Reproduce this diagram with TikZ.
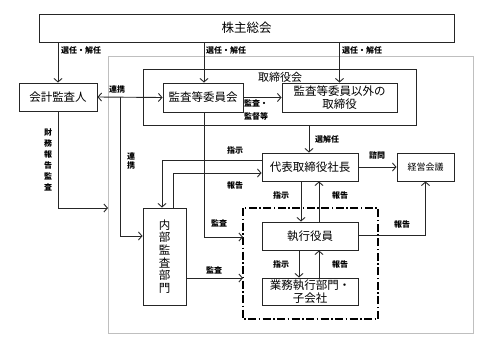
\documentclass[tikz,border=0pt]{standalone}
\usepackage{fontspec}
\setmainfont{Noto Sans CJK JP}
\usetikzlibrary{arrows.meta}
\begin{document}
\begin{tikzpicture}[x=1pt,y=-1pt,
  box/.style={draw=black!85, line width=0.9pt, inner sep=0pt, align=center,
    font=\fontsize{11.5}{13}\selectfont},
  lbl/.style={inner sep=0pt, font=\fontsize{8}{9.5}\selectfont\bfseries, align=center},
  arr/.style={line width=0.9pt, draw=black!85, -{Straight Barb[length=3.5pt,width=8pt]}},
  dbl/.style={line width=0.9pt, draw=black!85, {Straight Barb[length=3.5pt,width=8pt]}-{Straight Barb[length=3.5pt,width=8pt]}},
  ln/.style={line width=0.9pt, draw=black!85}]
\useasboundingbox (0,0) rectangle (493,348);
% outer gray frame
\draw[black!25, line width=0.9pt] (108,56) rectangle (473,333);
% board frame
\draw[ln] (143,69) rectangle (416,125);
\node[inner sep=0pt, font=\fontsize{11}{12}\selectfont] (torilbl) at (280,77) {取締役会};
\coordinate (tbot) at (309,125);
% dash-dot frame
\draw[line width=1.3pt, dash pattern=on 8pt off 2.5pt on 1.5pt off 2.5pt] (243,208) rectangle (378,319);

\node[box, minimum width=415pt, minimum height=28pt, font=\fontsize{12.5}{14}\selectfont] (kabu) at (246.5,28) {株主総会};
\node[box, minimum width=78pt, minimum height=28pt] (kaikei) at (58,97) {会計監査人};
\node[box, minimum width=80pt, minimum height=29pt] (kansa) at (203,97.5) {監査等委員会};
\node[box, minimum width=115pt, minimum height=29pt, font=\fontsize{11.5}{12.5}\selectfont] (igai) at (339.5,97.5) {監査等委員以外の\\取締役};
\node[box, minimum width=96pt, minimum height=28pt] (daihyo) at (310,167) {代表取締役社長};
\node[box, minimum width=57pt, minimum height=28pt, font=\fontsize{9}{10}\selectfont] (keiei) at (425.5,167) {経営会議};
\node[box, minimum width=43pt, minimum height=97pt, font=\fontsize{11.5}{12.6}\selectfont] (naibu) at (164.5,256.5) {内\\部\\監\\査\\部\\門};
\node[box, minimum width=96pt, minimum height=28pt] (shikko) at (310,236) {執行役員};
\node[box, minimum width=96pt, minimum height=27pt, font=\fontsize{11.5}{12.5}\selectfont] (gyomu) at (310,291.5) {業務執行部門・\\子会社};

% shareholders -> appointments
\draw[arr] (kabu.south -| kaikei) -- (kaikei.north);
\node[lbl, anchor=west] at (61,50) {選任・解任};
\draw[arr] (kabu.south -| 204,0) -- (kansa.north -| 204,0);
\node[lbl, anchor=west] at (206,50) {選任・解任};
\draw[arr] (kabu.south -| igai) -- (igai.north);
\node[lbl, anchor=west] at (342,50) {選任・解任};

% cooperation
\draw[dbl] (kaikei.east) -- (kansa.west);
\node[lbl, anchor=west] at (109,89) {連携};
\coordinate (c1) at (120,97);
\draw[arr] (c1) |- (naibu.west |- 0,236);
\node[lbl] at (131,161) {連\\携};

% financial audit
\draw[arr] (kaikei.south) |- (108,208);
\node[lbl, font=\fontsize{8}{11}\selectfont\bfseries] at (48,160) {財\\務\\報\\告\\監\\査};

% audit committee -> board others
\draw[arr] (kansa.east) -- (igai.west);
\node[lbl, anchor=north west, align=left, font=\fontsize{8}{13.5}\selectfont\bfseries] at (244,99) {監査・\\監督等};

% audit committee -> exec frame
\draw[arr] (kansa.south -| 204,0) |- (243,237);
\node[lbl] at (219,223) {監査};

% board -> president
\draw[arr] (tbot) -- (daihyo.north -| tbot);
\node[lbl, anchor=west] at (315,139) {選解任};

% president <-> internal audit
\draw[arr] (daihyo.west |- 0,160) -| (naibu.north -| 162,0);
\node[lbl] at (235,150) {指示};
\draw[arr] (naibu.north -| 173,0) |- (daihyo.west |- 0,173);
\node[lbl] at (235,185) {報告};

% president -> management meeting
\draw[arr] (daihyo.east) -- (keiei.west);
\node[lbl] at (377,155) {諮問};

% president <-> exec officers
\draw[arr] (daihyo.south -| 301,0) -- (shikko.north -| 301,0);
\node[lbl] at (281,195) {指示};
\draw[arr] (shikko.north -| 319,0) -- (daihyo.south -| 319,0);
\node[lbl] at (340,195) {報告};

% exec -> management meeting
\draw[arr] (shikko.east |- 0,235) -| (keiei.south);
\node[lbl] at (402,224) {報告};

% exec <-> business units
\draw[arr] (shikko.south -| 299,0) -- (gyomu.north -| 299,0);
\node[lbl] at (281,264) {指示};
\draw[arr] (gyomu.north -| 319,0) -- (shikko.south -| 319,0);
\node[lbl] at (340,264) {報告};

% internal audit -> exec frame
\draw[arr] (naibu.east |- 0,278) -- (243,278);
\node[lbl] at (214,270) {監査};
\end{tikzpicture}
\end{document}
